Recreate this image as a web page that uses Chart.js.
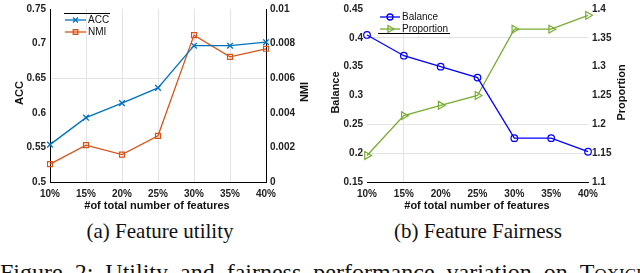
<!DOCTYPE html>
<html lang="en">
<head>
<meta charset="UTF-8" />
<title>Feature utility and fairness</title>
<script src="https://cdn.jsdelivr.net/npm/chart.js"></script>
<style>
  body { margin: 0; background: #fff; }
  #fig { position: relative; width: 640px; height: 273px; overflow: hidden; background: #fff; }
  .panel { position: absolute; top: -1px; width: 320px; height: 216px; }
  .sub { position: absolute; top: 219px; width: 320px; text-align: center; white-space: nowrap;
         font-family: 'Liberation Serif', 'Times New Roman', serif; font-size: 21px; color: #111; }
  #caption { position: absolute; top: 259px; left: 0; width: 760px; white-space: nowrap; word-spacing: 6px;
             font-family: 'Liberation Serif', 'Times New Roman', serif; font-size: 24px; color: #111; }
  .sc { font-variant: small-caps; }
</style>
</head>
<body>
<div id="fig">
  <div class="panel" style="left:0"><canvas id="utilityChart" width="320" height="216"></canvas></div>
  <div class="panel" style="left:320px"><canvas id="fairnessChart" width="320" height="216"></canvas></div>
  <div class="sub" style="left:0">(a) Feature utility</div>
  <div class="sub" style="left:318px">(b) Feature Fairness</div>
  <div id="caption">Figure 2: Utility and fairness performance variation on <span class="sc">Toxicity</span></div>
</div>

<script>
  // data
  const featureLabels = ['10%', '15%', '20%', '25%', '30%', '35%', '40%']
  const accValues = [0.554, 0.593, 0.614, 0.636, 0.697, 0.697, 0.702]
  const nmiValues = [0.00103, 0.00213, 0.00158, 0.00267, 0.00849, 0.00723, 0.0077]
  const balanceValues = [0.405, 0.369, 0.35, 0.331, 0.226, 0.226, 0.2025]
  const proportionValues = [1.146, 1.215, 1.233, 1.25, 1.365, 1.365, 1.389]

  const accTicks = { min: 0.5, max: 0.75, step: 0.05 }
  const nmiTicks = { min: 0, max: 0.01, step: 0.002 }
  const balanceTicks = { min: 0.15, max: 0.45, step: 0.05 }
  const proportionTicks = { min: 1.1, max: 1.4, step: 0.05 }

  const ACC_BLUE = '#0072BD'
  const NMI_ORANGE = '#D95319'
  const BAL_BLUE = '#0000FF'
  const PROP_GREEN = '#77AC30'
  const GRID = '#e3e3e3'

  Chart.defaults.font.family = "'Liberation Sans', Arial, sans-serif"
  Chart.defaults.color = '#222'
  Chart.defaults.animation = false

  const fmt = (v) => String(+Number(v).toFixed(4))

  // legend with line + marker, and rotated axis titles
  const decorPlugin = {
    id: 'decor',
    afterDraw(chart, args, opts) {
      const ctx = chart.ctx
      ctx.save()
      // legend rule
      ctx.strokeStyle = '#000'
      ctx.lineWidth = 1
      ctx.beginPath()
      ctx.moveTo(opts.rule[0], opts.rule[2] + 0.5)
      ctx.lineTo(opts.rule[1], opts.rule[2] + 0.5)
      ctx.stroke()
      opts.items.forEach((it) => {
        ctx.strokeStyle = it.color
        ctx.lineWidth = 1.3
        ctx.beginPath()
        ctx.moveTo(it.x0, it.y)
        ctx.lineTo(it.x1, it.y)
        ctx.stroke()
        ctx.fillStyle = 'rgba(0,0,0,0)'
        Chart.helpers.drawPoint(ctx, {
          pointStyle: it.style, radius: it.r, rotation: it.rot || 0, borderWidth: 1.3,
        }, (it.x0 + it.x1) / 2, it.y)
        ctx.fillStyle = '#111'
        ctx.font = "10px 'Liberation Sans', Arial, sans-serif"
        ctx.textAlign = 'left'
        ctx.textBaseline = 'middle'
        ctx.fillText(it.text, it.x1 + 2, it.y)
      })
      opts.titles.forEach((t) => {
        ctx.save()
        ctx.translate(t.x, t.y)
        ctx.rotate(t.rot || 0)
        ctx.fillStyle = '#111'
        ctx.font = "bold 11px 'Liberation Sans', Arial, sans-serif"
        ctx.textAlign = 'center'
        ctx.textBaseline = 'middle'
        ctx.fillText(t.text, 0, 0)
        ctx.restore()
      })
      ctx.restore()
    },
  }

  function yAxis(pos, t, width, border, gridFn) {
    return {
      type: 'linear',
      position: pos,
      min: t.min,
      max: t.max,
      afterFit: (s) => { s.width = width },
      border: { display: border, color: '#000', width: 1 },
      grid: {
        display: !!gridFn,
        drawTicks: false,
        color: (c) => (gridFn && gridFn(c.tick.value) ? GRID : 'rgba(0,0,0,0)'),
      },
      ticks: {
        stepSize: t.step,
        padding: 4,
        font: { size: 10, weight: 'bold' },
        callback: fmt,
      },
    }
  }

  function xAxis(gridIdx) {
    return {
      type: 'category',
      offset: false,
      afterFit: (s) => { s.height = 33 },
      border: { display: true, color: '#000', width: 1 },
      grid: {
        drawTicks: false,
        color: (c) => (gridIdx.includes(c.index) ? GRID : 'rgba(0,0,0,0)'),
      },
      ticks: { padding: 6, maxRotation: 0, font: { size: 10, weight: 'bold' } },
    }
  }

  const near = (a, b) => Math.abs(a - b) < 1e-6

  new Chart(document.getElementById('utilityChart'), {
    type: 'line',
    data: {
      labels: featureLabels,
      datasets: [
        {
          label: 'ACC', data: accValues, yAxisID: 'y',
          borderColor: ACC_BLUE, borderWidth: 1.3, pointStyle: 'crossRot',
          pointRadius: 4, pointBorderWidth: 1.3, pointBorderColor: ACC_BLUE,
          pointBackgroundColor: 'rgba(0,0,0,0)', tension: 0,
        },
        {
          label: 'NMI', data: nmiValues, yAxisID: 'y1',
          borderColor: NMI_ORANGE, borderWidth: 1.3, pointStyle: 'rect',
          pointRadius: 3.5, pointBorderWidth: 1.2, pointBorderColor: NMI_ORANGE,
          pointBackgroundColor: 'rgba(0,0,0,0)', tension: 0,
        },
      ],
    },
    options: {
      responsive: false,
      layout: { padding: 0 },
      scales: {
        x: xAxis([1, 2, 3, 4, 5]),
        y: yAxis('left', accTicks, 50, true, (v) => near(v, 0.65)),
        y1: yAxis('right', nmiTicks, 54, true, null),
      },
      plugins: {
        legend: { display: false },
        tooltip: { enabled: false },
        decor: {
          rule: [64, 110, 14],
          items: [
            { text: 'ACC', color: ACC_BLUE, style: 'crossRot', r: 3.5, x0: 65, x1: 86, y: 21 },
            { text: 'NMI', color: NMI_ORANGE, style: 'rect', r: 3.2, x0: 65, x1: 86, y: 33 },
          ],
          titles: [
            { text: 'ACC', x: 20, y: 94, rot: -Math.PI / 2 },
            { text: 'NMI', x: 305, y: 93, rot: -Math.PI / 2 },
            { text: '#of total number of features', x: 157, y: 207 },
          ],
        },
      },
    },
    plugins: [decorPlugin],
  })

  new Chart(document.getElementById('fairnessChart'), {
    type: 'line',
    data: {
      labels: featureLabels,
      datasets: [
        {
          label: 'Balance', data: balanceValues, yAxisID: 'y',
          borderColor: BAL_BLUE, borderWidth: 1.3, pointStyle: 'circle',
          pointRadius: 3.3, pointBorderWidth: 1.2, pointBorderColor: BAL_BLUE,
          pointBackgroundColor: 'rgba(0,0,0,0)', tension: 0,
        },
        {
          label: 'Proportion', data: proportionValues, yAxisID: 'y1',
          borderColor: PROP_GREEN, borderWidth: 1.3, pointStyle: 'triangle',
          pointRotation: 90, pointRadius: 4.5, pointBorderWidth: 1.2,
          pointBorderColor: PROP_GREEN, pointBackgroundColor: 'rgba(0,0,0,0)', tension: 0,
        },
      ],
    },
    options: {
      responsive: false,
      layout: { padding: 0 },
      scales: {
        x: xAxis([1]),
        y: yAxis('left', balanceTicks, 47, false, (v) => near(v, 0.4) || near(v, 0.25) || near(v, 0.2)),
        y1: yAxis('right', proportionTicks, 52, false, null),
      },
      plugins: {
        legend: { display: false },
        tooltip: { enabled: false },
        decor: {
          rule: [58, 130, 34],
          items: [
            { text: 'Balance', color: BAL_BLUE, style: 'circle', r: 3, x0: 60, x1: 80, y: 18 },
            { text: 'Proportion', color: PROP_GREEN, style: 'triangle', rot: 90, r: 4, x0: 60, x1: 80, y: 30 },
          ],
          titles: [
            { text: 'Balance', x: 15.5, y: 93.5, rot: -Math.PI / 2 },
            { text: 'Proportion', x: 302, y: 93.5, rot: -Math.PI / 2 },
            { text: '#of total number of features', x: 157, y: 207 },
          ],
        },
      },
    },
    plugins: [decorPlugin],
  })
</script>
</body>
</html>
